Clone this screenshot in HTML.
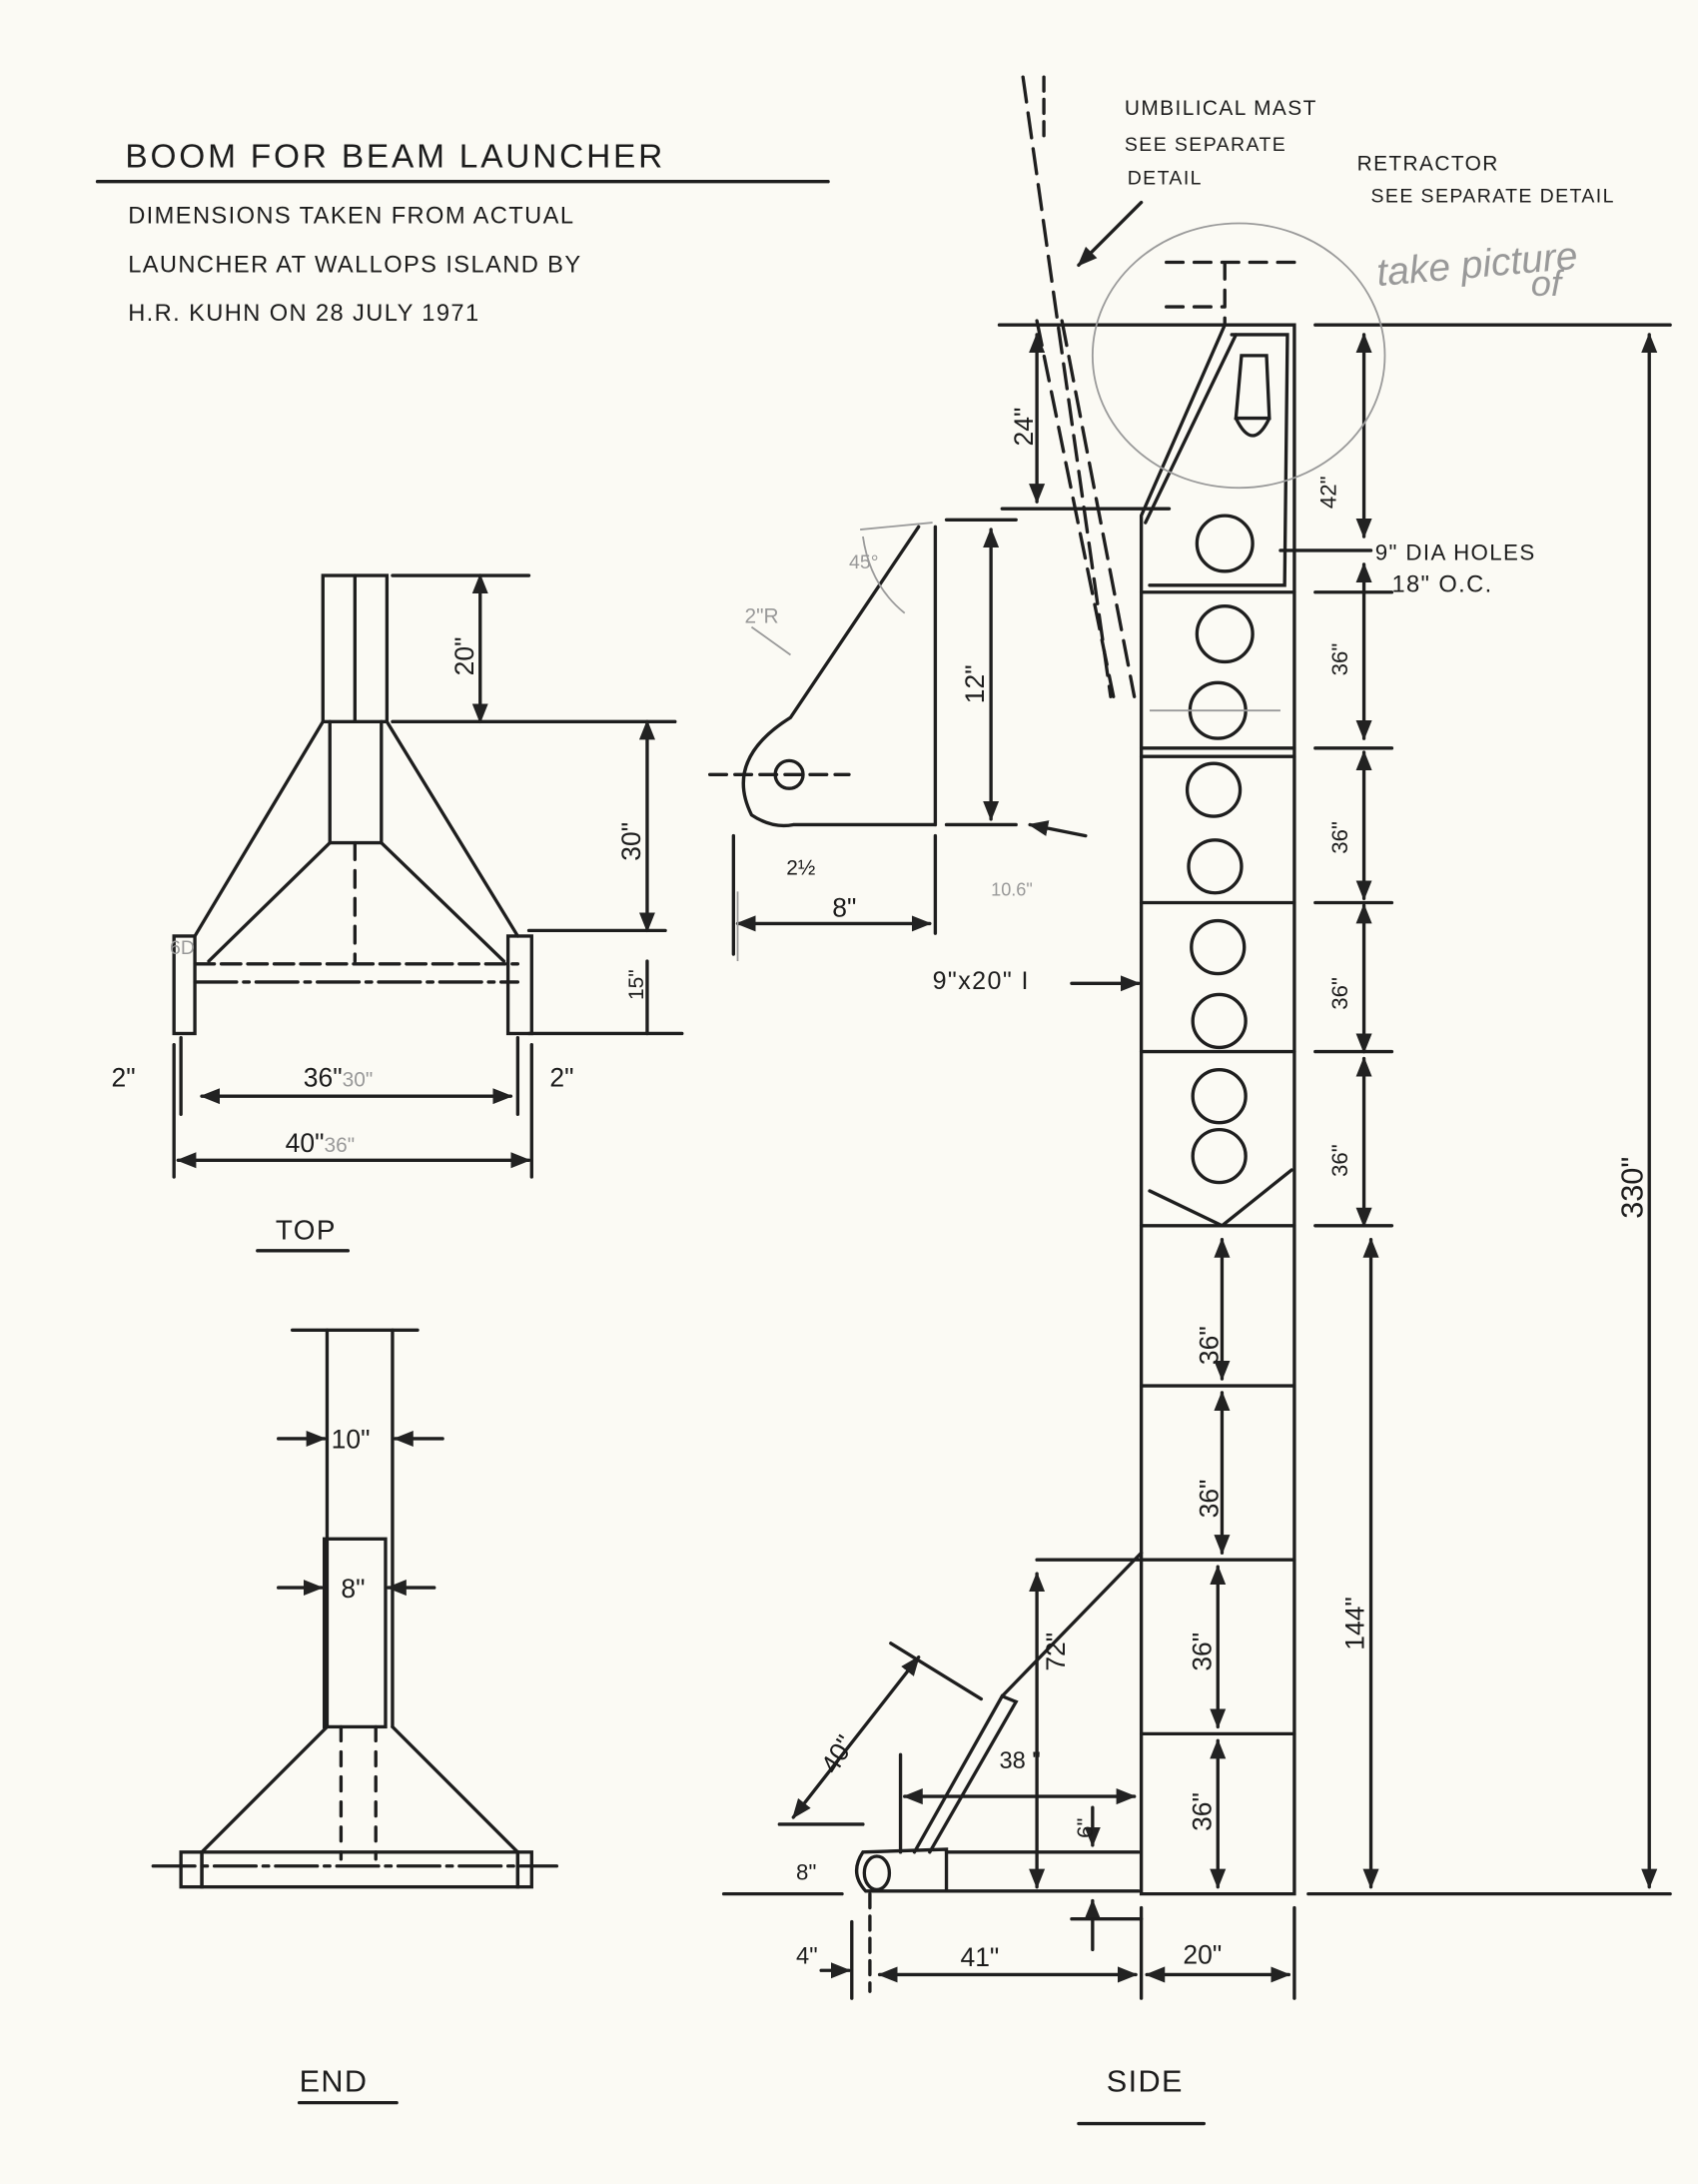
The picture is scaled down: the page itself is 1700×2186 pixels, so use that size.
<!DOCTYPE html>
<html><head><meta charset="utf-8"><style>
html,body{margin:0;padding:0;background:#fbfaf4;}
svg{display:block}
text{font-family:"Liberation Sans",sans-serif;fill:#1c1c1c;}
.h{font-size:24px;letter-spacing:2px}
.s{font-size:17px;letter-spacing:1px}
.d{font-size:19px}
.p{fill:#999}
</style></head><body>
<svg width="1700" height="2186" viewBox="0 0 1220 1568" xmlns="http://www.w3.org/2000/svg">
<defs>
<marker id="a" viewBox="0 0 10 10" refX="9" refY="5" markerWidth="6" markerHeight="6" orient="auto-start-reverse"><path d="M0,1 L10,5 L0,9 z" fill="#222"/></marker>
</defs>
<rect width="1220" height="1568" fill="#fbfaf4"/>
<g stroke="#1e1e1e" stroke-width="2.4" fill="none" stroke-linecap="round">
<line x1="70" y1="130" x2="595" y2="130"/>
<rect x="232" y="413" width="46" height="105"/>
<line x1="255" y1="413" x2="255" y2="518"/>
<line x1="232" y1="518" x2="140" y2="672"/>
<line x1="278" y1="518" x2="372" y2="672"/>
<line x1="237" y1="518" x2="237" y2="605"/><line x1="274" y1="518" x2="274" y2="605"/>
<line x1="237" y1="605" x2="150" y2="690"/><line x1="274" y1="605" x2="362" y2="690"/>
<line x1="237" y1="605" x2="274" y2="605"/>
<line x1="255" y1="605" x2="255" y2="690" stroke-dasharray="12,8"/>
<line x1="140" y1="692" x2="372" y2="692" stroke-dasharray="14,5"/>
<line x1="140" y1="705" x2="372" y2="705" stroke-dasharray="30,5,4,5"/>
<rect x="125" y="672" width="15" height="70"/><rect x="365" y="672" width="17" height="70"/>
<line x1="282" y1="413" x2="380" y2="413"/><line x1="282" y1="518" x2="485" y2="518"/>
<line x1="345" y1="413" x2="345" y2="518" marker-start="url(#a)" marker-end="url(#a)"/>
<line x1="465" y1="518" x2="465" y2="668" marker-start="url(#a)" marker-end="url(#a)"/>
<line x1="380" y1="668" x2="478" y2="668"/><line x1="380" y1="742" x2="490" y2="742"/>
<line x1="465" y1="690" x2="465" y2="742"/>
<line x1="130" y1="745" x2="130" y2="800"/><line x1="372" y1="745" x2="372" y2="800"/>
<line x1="145" y1="787" x2="367" y2="787" marker-start="url(#a)" marker-end="url(#a)"/>
<line x1="125" y1="750" x2="125" y2="845"/><line x1="382" y1="750" x2="382" y2="845"/>
<line x1="128" y1="833" x2="380" y2="833" marker-start="url(#a)" marker-end="url(#a)"/>
<line x1="185" y1="898" x2="250" y2="898"/>
<line x1="235" y1="955" x2="235" y2="1240"/><line x1="282" y1="955" x2="282" y2="1240"/>
<line x1="210" y1="955" x2="300" y2="955"/>
<rect x="233" y="1105" width="44" height="135"/>
<line x1="245" y1="1240" x2="245" y2="1335" stroke-dasharray="10,8"/><line x1="270" y1="1240" x2="270" y2="1335" stroke-dasharray="10,8"/>
<line x1="235" y1="1240" x2="145" y2="1330"/><line x1="282" y1="1240" x2="372" y2="1330"/>
<rect x="145" y="1330" width="227" height="25"/>
<rect x="130" y="1330" width="15" height="25"/><rect x="372" y="1330" width="10" height="25"/>
<line x1="110" y1="1340" x2="400" y2="1340" stroke-dasharray="30,5,4,5"/>
<line x1="200" y1="1033" x2="233" y2="1033" marker-end="url(#a)"/><line x1="318" y1="1033" x2="284" y2="1033" marker-end="url(#a)"/>
<line x1="200" y1="1140" x2="231" y2="1140" marker-end="url(#a)"/><line x1="312" y1="1140" x2="279" y2="1140" marker-end="url(#a)"/>
<line x1="215" y1="1510" x2="285" y2="1510"/>
<path d="M880,233 L930,233 L930,1360 L820,1360 L820,370 Z"/>
<path d="M888,240 L823,375"/>
<path d="M885,240 L925,240 L923,420 L826,420"/>
<line x1="820" y1="425" x2="930" y2="425"/>
<line x1="820" y1="537" x2="930" y2="537"/><line x1="820" y1="543" x2="930" y2="543"/>
<line x1="820" y1="648" x2="930" y2="648"/><line x1="820" y1="755" x2="930" y2="755"/>
<line x1="820" y1="880" x2="930" y2="880"/>
<line x1="826" y1="855" x2="878" y2="880"/><line x1="878" y1="880" x2="928" y2="840"/>
<line x1="820" y1="995" x2="930" y2="995"/><line x1="820" y1="1120" x2="930" y2="1120"/>
<line x1="820" y1="1245" x2="930" y2="1245"/>
<path d="M892,255 L910,255 L912,300 L888,300 Z"/><path d="M888,300 Q900,325 912,300"/>
<circle cx="880" cy="390" r="20"/><circle cx="880" cy="455" r="20"/><circle cx="875" cy="510" r="20"/>
<circle cx="872" cy="567" r="19"/><circle cx="873" cy="622" r="19"/><circle cx="875" cy="680" r="19"/>
<circle cx="876" cy="733" r="19"/><circle cx="876" cy="787" r="19"/><circle cx="876" cy="830" r="19"/>
<line x1="945" y1="233" x2="1200" y2="233"/>
<line x1="940" y1="1360" x2="1200" y2="1360"/>
<line x1="980" y1="240" x2="980" y2="385" marker-start="url(#a)" marker-end="url(#a)"/>
<line x1="980" y1="405" x2="980" y2="530" marker-start="url(#a)" marker-end="url(#a)"/>
<line x1="980" y1="540" x2="980" y2="645" marker-start="url(#a)" marker-end="url(#a)"/>
<line x1="980" y1="650" x2="980" y2="755" marker-start="url(#a)" marker-end="url(#a)"/>
<line x1="980" y1="760" x2="980" y2="880" marker-start="url(#a)" marker-end="url(#a)"/>
<line x1="985" y1="890" x2="985" y2="1355" marker-start="url(#a)" marker-end="url(#a)"/>
<line x1="1185" y1="240" x2="1185" y2="1355" marker-start="url(#a)" marker-end="url(#a)"/>
<line x1="945" y1="425" x2="1000" y2="425"/><line x1="945" y1="537" x2="1000" y2="537"/>
<line x1="945" y1="648" x2="1000" y2="648"/><line x1="945" y1="755" x2="1000" y2="755"/><line x1="945" y1="880" x2="1000" y2="880"/>
<line x1="920" y1="395" x2="985" y2="395"/>
<line x1="878" y1="890" x2="878" y2="990" marker-start="url(#a)" marker-end="url(#a)"/>
<line x1="878" y1="1000" x2="878" y2="1115" marker-start="url(#a)" marker-end="url(#a)"/>
<line x1="875" y1="1125" x2="875" y2="1240" marker-start="url(#a)" marker-end="url(#a)"/>
<line x1="875" y1="1250" x2="875" y2="1355" marker-start="url(#a)" marker-end="url(#a)"/>
<line x1="735" y1="55" x2="798" y2="500" stroke-dasharray="18,8"/>
<line x1="750" y1="55" x2="750" y2="100" stroke-dasharray="10,6"/>
<line x1="745" y1="230" x2="800" y2="500" stroke-dasharray="18,8"/>
<line x1="763" y1="230" x2="815" y2="500" stroke-dasharray="18,8"/>
<line x1="820" y1="145" x2="775" y2="190" marker-end="url(#a)"/>
<line x1="718" y1="233" x2="880" y2="233"/>
<line x1="720" y1="365" x2="840" y2="365"/>
<line x1="745" y1="240" x2="745" y2="360" marker-start="url(#a)" marker-end="url(#a)"/>
<path d="M838,188 L930,188 M838,220 L880,220 M880,188 L880,233" stroke-dasharray="12,8"/>
<path d="M660,378 L568,515 Q520,545 540,585 Q555,595 570,592 L672,592"/>
<line x1="672" y1="378" x2="672" y2="592"/>
<line x1="680" y1="373" x2="730" y2="373"/><line x1="680" y1="592" x2="730" y2="592"/>
<line x1="712" y1="380" x2="712" y2="588" marker-start="url(#a)" marker-end="url(#a)"/>
<circle cx="567" cy="556" r="10"/><line x1="510" y1="556" x2="610" y2="556" stroke-dasharray="12,6"/>
<line x1="527" y1="600" x2="527" y2="685"/><line x1="672" y1="600" x2="672" y2="670"/>
<line x1="530" y1="663" x2="668" y2="663" marker-start="url(#a)" marker-end="url(#a)"/>
<line x1="780" y1="600" x2="740" y2="592" marker-end="url(#a)"/>
<line x1="770" y1="706" x2="818" y2="706" marker-end="url(#a)"/>
<path d="M620,1330 L680,1328 L680,1358 L622,1358 Q610,1345 620,1330 Z"/>
<ellipse cx="630" cy="1345" rx="9" ry="12"/>
<line x1="680" y1="1330" x2="818" y2="1330"/><line x1="680" y1="1358" x2="818" y2="1358"/>
<path d="M657,1330 L720,1218 L730,1222 L668,1330"/>
<line x1="720" y1="1218" x2="820" y2="1115"/>
<line x1="520" y1="1360" x2="605" y2="1360"/>
<line x1="560" y1="1310" x2="620" y2="1310"/>
<line x1="570" y1="1305" x2="660" y2="1190" marker-start="url(#a)" marker-end="url(#a)"/>
<line x1="640" y1="1180" x2="705" y2="1220"/>
<line x1="745" y1="1120" x2="820" y2="1120"/>
<line x1="745" y1="1130" x2="745" y2="1355" marker-start="url(#a)" marker-end="url(#a)"/>
<line x1="650" y1="1290" x2="815" y2="1290" marker-start="url(#a)" marker-end="url(#a)"/>
<line x1="647" y1="1260" x2="647" y2="1330"/>
<line x1="785" y1="1298" x2="785" y2="1325" marker-end="url(#a)"/>
<line x1="785" y1="1400" x2="785" y2="1365" marker-end="url(#a)"/>
<line x1="770" y1="1378" x2="820" y2="1378"/>
<line x1="625" y1="1360" x2="625" y2="1430" stroke-dasharray="10,6"/>
<line x1="820" y1="1370" x2="820" y2="1435"/><line x1="930" y1="1370" x2="930" y2="1435"/>
<line x1="612" y1="1380" x2="612" y2="1435"/>
<line x1="632" y1="1418" x2="816" y2="1418" marker-start="url(#a)" marker-end="url(#a)"/>
<line x1="824" y1="1418" x2="926" y2="1418" marker-start="url(#a)" marker-end="url(#a)"/>
<line x1="590" y1="1415" x2="610" y2="1415" marker-end="url(#a)"/>
<line x1="775" y1="1525" x2="865" y2="1525"/>
</g>
<g stroke="#9a9a9a" stroke-width="1.3" fill="none">
<ellipse cx="890" cy="255" rx="105" ry="95"/>
<path d="M618,380 L670,375 M620,385 Q625,420 650,440"/>
<line x1="540" y1="450" x2="568" y2="470"/>
<line x1="826" y1="510" x2="920" y2="510"/>
<line x1="530" y1="640" x2="530" y2="690"/>
</g>
<g class="h">
<text x="90" y="120">BOOM FOR BEAM LAUNCHER</text>
</g>
<g class="s">
<text x="92" y="160">DIMENSIONS TAKEN FROM ACTUAL</text>
<text x="92" y="195">LAUNCHER AT WALLOPS ISLAND BY</text>
<text x="92" y="230">H.R. KUHN ON 28 JULY 1971</text>
<text x="808" y="82" font-size="15">UMBILICAL MAST</text>
<text x="808" y="108" font-size="14">SEE SEPARATE</text>
<text x="810" y="132" font-size="14">DETAIL</text>
<text x="975" y="122" font-size="15">RETRACTOR</text>
<text x="985" y="145" font-size="14">SEE SEPARATE DETAIL</text>
<text x="988" y="402" font-size="16">9" DIA HOLES</text>
<text x="1000" y="425" font-size="17">18" O.C.</text>
<text x="670" y="710" font-size="18">9"x20" I</text>
<text x="198" y="890" font-size="20">TOP</text>
<text x="215" y="1502" font-size="22">END</text>
<text x="795" y="1502" font-size="22">SIDE</text>
</g>
<g class="d">
<text x="0" y="0" transform="translate(340,485) rotate(-90)">20"</text>
<text x="0" y="0" transform="translate(460,618) rotate(-90)">30"</text>
<text x="0" y="0" transform="translate(462,718) rotate(-90)" font-size="15">15"</text>
<text x="218" y="780">36"<tspan class="p" font-size="15">30"</tspan></text>
<text x="205" y="827">40"<tspan class="p" font-size="15">36"</tspan></text>
<text x="395" y="780">2"</text><text x="80" y="780">2"</text>
<text x="122" y="685" class="p" font-size="14">6D</text>
<text x="238" y="1040">10"</text><text x="245" y="1147">8"</text>
<text x="0" y="0" transform="translate(742,320) rotate(-90)">24"</text>
<text x="0" y="0" transform="translate(707,505) rotate(-90)">12"</text>
<text x="598" y="658">8"</text>
<text x="565" y="628" font-size="15">2½</text>
<text x="535" y="447" class="p" font-size="15">2"R</text>
<text x="610" y="408" class="p" font-size="14">45°</text>
<text x="712" y="643" class="p" font-size="13">10.6"</text>
<text x="0" y="0" transform="translate(960,365) rotate(-90)" font-size="16">42"</text>
<text x="0" y="0" transform="translate(968,485) rotate(-90)" font-size="16">36"</text>
<text x="0" y="0" transform="translate(968,613) rotate(-90)" font-size="16">36"</text>
<text x="0" y="0" transform="translate(968,725) rotate(-90)" font-size="16">36"</text>
<text x="0" y="0" transform="translate(968,845) rotate(-90)" font-size="16">36"</text>
<text x="0" y="0" transform="translate(875,980) rotate(-90)">36"</text>
<text x="0" y="0" transform="translate(875,1090) rotate(-90)">36"</text>
<text x="0" y="0" transform="translate(870,1200) rotate(-90)">36"</text>
<text x="0" y="0" transform="translate(870,1315) rotate(-90)">36"</text>
<text x="0" y="0" transform="translate(980,1185) rotate(-90)">144"</text>
<text x="0" y="0" transform="translate(1180,875) rotate(-90)" font-size="22">330"</text>
<text x="0" y="0" transform="translate(765,1200) rotate(-90)">72"</text>
<text x="0" y="0" transform="translate(600,1275) rotate(-58)">40"</text>
<text x="718" y="1270" font-size="17">38 "</text>
<text x="0" y="0" transform="translate(785,1320) rotate(-90)" font-size="16">6"</text>
<text x="572" y="1350" font-size="16">8"</text>
<text x="572" y="1410" font-size="17">4"</text>
<text x="690" y="1412">41"</text>
<text x="850" y="1410">20"</text>
</g>
<text x="990" y="205" class="p" font-size="28" font-family="Liberation Serif" font-style="italic" transform="rotate(-5 990 205)">take picture</text>
<text x="1100" y="212" class="p" font-size="26" font-family="Liberation Serif" font-style="italic">of</text>
</svg>
</body></html>
